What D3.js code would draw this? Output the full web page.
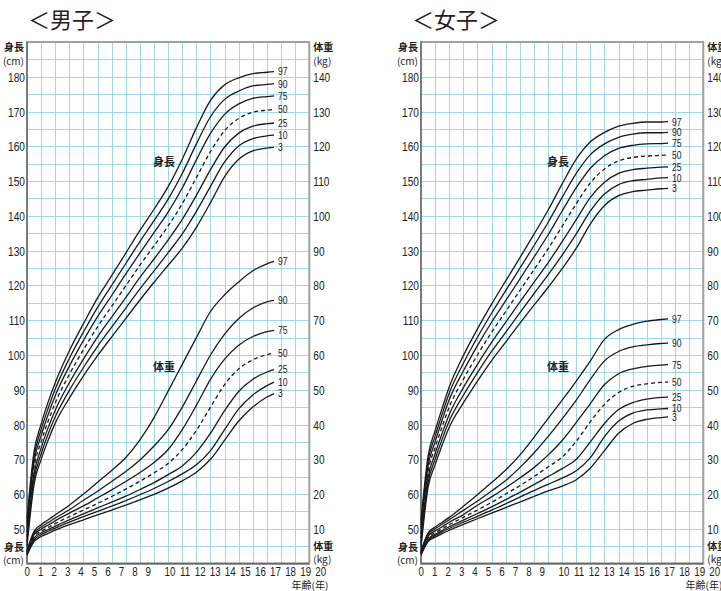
<!DOCTYPE html>
<html><head><meta charset="utf-8">
<script src="https://cdn.jsdelivr.net/npm/d3@7"></script>
<style>body{margin:0;background:#fff;} svg{display:block;}</style>
</head><body>
<svg id="c" width="721" height="591"></svg>
<script>
// ---- data ----
const ages = [0, 0.5, 1, 1.5, 2, 3, 4, 5, 6, 7, 8, 9, 10, 11, 12, 13, 14, 15, 16, 17, 17.5];
const percentiles = [3, 10, 25, 50, 75, 90, 97];

// height (cm), one row per percentile
const boysHeight = [
  [45.0, 62.8, 69.9, 75.5, 80.4, 87.6, 94.0, 99.8, 105.2, 110.5, 115.8, 120.9, 125.8, 130.7, 136.7, 143.8, 151.3, 156.3, 158.7, 159.5, 159.7],
  [46.3, 64.3, 71.5, 77.3, 82.2, 89.8, 96.4, 102.5, 108.0, 113.5, 119.0, 124.2, 129.4, 134.8, 141.3, 148.5, 155.5, 160.1, 162.2, 163.0, 163.2],
  [47.6, 65.8, 73.2, 79.1, 84.1, 92.0, 98.8, 105.2, 110.9, 116.5, 122.3, 127.6, 133.1, 139.0, 145.9, 153.3, 159.8, 163.8, 165.8, 166.5, 166.7],
  [49.0, 67.5, 75.0, 81.0, 86.2, 94.4, 101.5, 108.1, 114.0, 119.9, 125.8, 131.4, 137.1, 143.5, 151.0, 158.5, 164.5, 168.0, 169.8, 170.4, 170.6],
  [50.4, 69.2, 76.8, 82.9, 88.3, 96.8, 104.2, 111.0, 117.1, 123.3, 129.3, 135.2, 141.1, 148.0, 156.1, 163.7, 169.2, 172.2, 173.8, 174.3, 174.5],
  [51.7, 70.7, 78.5, 84.7, 90.2, 99.0, 106.6, 113.7, 120.0, 126.3, 132.6, 138.6, 144.8, 152.2, 160.7, 168.5, 173.5, 175.9, 177.4, 177.8, 178.0],
  [53.0, 72.2, 80.1, 86.5, 92.0, 101.2, 109.0, 116.4, 122.8, 129.3, 135.8, 141.9, 148.4, 156.3, 165.3, 173.2, 177.7, 179.7, 180.9, 181.3, 181.5]
];
// weight (kg)
const boysWeight = [
  [2.4, 6.3, 7.8, 8.7, 9.6, 11.2, 12.6, 14.0, 15.4, 16.8, 18.3, 19.9, 21.7, 23.8, 26.3, 30.0, 35.5, 41.0, 45.0, 47.9, 48.9],
  [2.6, 6.8, 8.3, 9.3, 10.2, 11.9, 13.5, 15.0, 16.5, 18.1, 19.8, 21.6, 23.6, 25.8, 28.4, 32.5, 38.5, 44.5, 48.5, 51.2, 52.2],
  [2.8, 7.3, 8.8, 9.8, 10.8, 12.6, 14.3, 16.0, 17.7, 19.4, 21.3, 23.3, 25.6, 28.1, 32.0, 37.5, 44.0, 49.5, 53.0, 55.1, 55.8],
  [3.0, 7.8, 9.3, 10.4, 11.5, 13.5, 15.4, 17.3, 19.3, 21.4, 23.7, 26.1, 28.8, 32.8, 38.3, 45.0, 51.5, 56.0, 58.6, 60.1, 60.6],
  [3.3, 8.3, 9.9, 11.1, 12.3, 14.5, 16.6, 18.9, 21.2, 23.6, 26.2, 29.1, 32.8, 38.5, 45.5, 53.0, 58.8, 62.8, 65.3, 66.7, 67.1],
  [3.5, 8.8, 10.5, 11.8, 13.1, 15.5, 18.2, 20.8, 23.6, 26.5, 29.8, 33.8, 38.5, 45.0, 52.5, 60.0, 66.0, 70.5, 73.5, 75.3, 75.7],
  [3.8, 9.3, 11.2, 12.6, 14.0, 16.8, 20.0, 23.4, 26.8, 30.5, 35.6, 42.0, 49.6, 57.3, 65.0, 72.5, 77.3, 81.0, 84.2, 86.2, 86.9]
];
const girlsHeight = [
  [44.7, 61.9, 68.4, 74.1, 79.2, 86.2, 92.5, 98.4, 103.7, 109.1, 114.3, 119.4, 124.8, 130.7, 137.7, 143.0, 145.8, 147.0, 147.4, 147.8, 147.9],
  [45.9, 63.3, 70.0, 75.8, 81.0, 88.4, 94.9, 101.0, 106.5, 112.1, 117.6, 123.0, 128.7, 134.8, 141.4, 146.3, 149.0, 150.1, 150.5, 150.9, 151.0],
  [47.2, 64.8, 71.6, 77.5, 82.9, 90.6, 97.3, 103.6, 109.4, 115.2, 120.9, 126.5, 132.6, 138.9, 145.3, 149.7, 152.2, 153.3, 153.7, 154.0, 154.1],
  [48.5, 66.4, 73.3, 79.4, 85.0, 93.0, 100.0, 106.5, 112.5, 118.5, 124.5, 130.5, 137.0, 143.5, 149.5, 153.5, 155.8, 156.8, 157.2, 157.4, 157.5],
  [49.8, 68.0, 75.0, 81.3, 87.1, 95.4, 102.7, 109.4, 115.6, 121.8, 128.1, 134.5, 141.4, 148.1, 153.7, 157.3, 159.4, 160.3, 160.7, 160.8, 160.9],
  [51.1, 69.5, 76.6, 83.0, 89.0, 97.6, 105.1, 112.0, 118.5, 124.9, 131.4, 138.1, 145.3, 152.2, 157.6, 160.7, 162.6, 163.5, 163.9, 163.9, 164.0],
  [52.3, 70.9, 78.2, 84.7, 90.8, 99.8, 107.5, 114.6, 121.3, 127.9, 134.7, 141.6, 149.2, 156.3, 161.3, 164.0, 165.8, 166.6, 167.0, 167.0, 167.1]
];
const girlsWeight = [
  [2.4, 6.3, 7.6, 8.6, 9.6, 11.3, 12.9, 14.5, 16.1, 17.7, 19.3, 20.9, 22.3, 24.1, 27.5, 32.5, 37.5, 40.3, 41.5, 42.0, 42.2],
  [2.6, 6.7, 8.0, 9.1, 10.1, 11.9, 13.6, 15.4, 17.2, 19.1, 21.0, 22.8, 24.6, 26.7, 30.5, 36.5, 41.0, 43.3, 44.2, 44.5, 44.6],
  [2.8, 7.0, 8.4, 9.5, 10.6, 12.5, 14.4, 16.3, 18.4, 20.5, 22.7, 25.0, 27.3, 30.0, 35.0, 40.3, 44.3, 46.3, 47.3, 47.8, 47.9],
  [3.0, 7.4, 8.9, 10.0, 11.2, 13.3, 15.4, 17.6, 20.0, 22.4, 25.0, 27.8, 30.6, 35.2, 40.8, 45.8, 49.2, 51.0, 51.7, 52.1, 52.2],
  [3.2, 7.9, 9.4, 10.6, 11.9, 14.1, 16.8, 19.2, 21.8, 24.6, 27.6, 31.2, 35.4, 40.6, 46.0, 51.5, 54.6, 56.0, 56.7, 57.1, 57.2],
  [3.5, 8.4, 10.0, 11.3, 12.6, 15.3, 18.0, 20.9, 23.9, 27.6, 31.8, 36.5, 41.6, 47.0, 53.0, 58.3, 61.0, 62.3, 62.9, 63.3, 63.4],
  [3.7, 8.8, 10.5, 11.9, 13.3, 16.5, 19.8, 23.3, 26.9, 31.2, 36.3, 41.7, 47.0, 52.5, 58.3, 64.5, 67.3, 68.8, 69.7, 70.2, 70.4]
];

const ageTicks = d3.range(0, 21);           // 0..20
const heightTicks = d3.range(50, 190, 10);  // 50..180
const weightTicks = d3.range(10, 150, 10);  // 10..140
const panelTitles = ["＜男子＞", "＜女子＞"];

// ---- drawing ----
const svg = d3.select("#c");
const NUM_FONT = "'Liberation Sans', Arial, sans-serif";
const JP_FONT = "'Noto Sans CJK JP', 'Noto Sans CJK SC', sans-serif";
const GRID = "#9ed8ee";

function drawPanel(dx, titleX, title, heightData, weightData) {
  const left = 27 + dx, right = 309.3 + dx, top = 42, bottom = 563.6;
  const x = d3.scaleLinear().domain([0, 20]).range([left, right]);
  const yH = d3.scaleLinear().domain([40, 190]).range([bottom, top]);
  const yW = d3.scaleLinear().domain([0, 150]).range([bottom, top]);
  // age-label positions as printed in the source (irregular spacing)
  const xLab = d3.scaleLinear().domain([0, 9, 10, 20]).range([27.3 + dx, 148.3 + dx, 170 + dx, 320.7 + dx]);

  const g = svg.append("g");

  // title
  g.append("text").attr("x", titleX).attr("y", 28)
    .attr("font-family", JP_FONT).attr("font-size", 22).attr("fill", "#222")
    .text(title);

  // grid
  const grid = g.append("g").attr("stroke", GRID).attr("stroke-width", 1)
    .attr("shape-rendering", "crispEdges");
  grid.selectAll("line.h").data(d3.range(45, 190, 5)).join("line")
    .attr("x1", left).attr("x2", right)
    .attr("y1", d => Math.round(yH(d)) + 0.5).attr("y2", d => Math.round(yH(d)) + 0.5);
  grid.selectAll("line.v").data(d3.range(1, 20)).join("line")
    .attr("y1", top).attr("y2", bottom)
    .attr("x1", d => Math.round(x(d)) + 0.5).attr("x2", d => Math.round(x(d)) + 0.5);

  // frame
  g.append("rect").attr("x", left).attr("y", top)
    .attr("width", right - left).attr("height", bottom - top)
    .attr("fill", "none").attr("stroke", "#a0a0a0").attr("stroke-width", 2);
  g.append("line").attr("x1", left).attr("x2", left).attr("y1", top).attr("y2", bottom)
    .attr("stroke", "#777").attr("stroke-width", 1.8);
  g.append("line").attr("x1", left).attr("x2", right).attr("y1", bottom).attr("y2", bottom)
    .attr("stroke", "#666").attr("stroke-width", 1.8);

  // numeric labels (condensed)
  function num(sel, tx, ty, anchor, size) {
    sel.attr("transform", d => `translate(${tx(d)},${ty(d)}) scale(0.78,1)`)
      .attr("text-anchor", anchor).attr("dominant-baseline", "central")
      .attr("font-family", NUM_FONT).attr("font-size", size).attr("fill", "#222")
      .text(d => d);
  }
  g.append("g").selectAll("text").data(heightTicks).join("text")
    .call(num, () => left - 2, d => yH(d), "end", 13);
  g.append("g").selectAll("text").data(weightTicks).join("text")
    .call(num, () => right + 4, d => yW(d), "start", 13);
  g.append("g").selectAll("text").data(ageTicks).join("text")
    .call(num, d => xLab(d), () => 572, "middle", 12.5);

  // unit labels
  function jp(txt, px, py, anchor, size, weight) {
    g.append("text").attr("x", px).attr("y", py).attr("text-anchor", anchor)
      .attr("font-family", JP_FONT).attr("font-size", size)
      .attr("font-weight", weight || 700).attr("fill", "#222").text(txt);
  }
  jp("身長", left - 3, 51, "end", 10);
  jp("(cm)", left - 3, 65, "end", 10, 400);
  jp("体重", right + 4, 51, "start", 10);
  jp("(kg)", right + 4, 65, "start", 10, 400);
  jp("身長", left - 3, 551, "end", 10);
  jp("(cm)", left - 3, 564, "end", 10, 400);
  jp("体重", right + 4, 550, "start", 10);
  jp("(kg)", right + 4, 563, "start", 10, 400);
  jp("年齢(年)", right + 19, 589, "end", 10, 400);

  // curves
  const lineH = d3.line().x((d, i) => x(ages[i])).y(d => yH(d)).curve(d3.curveMonotoneX);
  const lineW = d3.line().x((d, i) => x(ages[i])).y(d => yW(d)).curve(d3.curveMonotoneX);
  const curves = g.append("g").attr("fill", "none").attr("stroke", "#1a1a1a")
    .attr("stroke-width", 1.3);
  curves.selectAll("path.h").data(heightData).join("path")
    .attr("d", lineH)
    .attr("stroke-dasharray", (d, i) => percentiles[i] === 50 ? "4,3" : null);
  curves.selectAll("path.w").data(weightData).join("path")
    .attr("d", lineW)
    .attr("stroke-dasharray", (d, i) => percentiles[i] === 50 ? "4,3" : null);

  // percentile labels at curve ends
  const endAge = ages[ages.length - 1];
  const labs = g.append("g");
  labs.selectAll("text.h").data(heightData).join("text")
    .call(num, () => x(endAge) + 4, d => yH(d[d.length - 1]), "start", 11)
    .text((d, i) => percentiles[i]);
  labs.selectAll("text.w").data(weightData).join("text")
    .call(num, () => x(endAge) + 4, d => yW(d[d.length - 1]), "start", 11)
    .text((d, i) => percentiles[i]);

  // in-plot labels
  jp("身長", x(9.7), yH(155.5) + 4, "middle", 11);
  jp("体重", x(9.7), yW(56.5) + 4, "middle", 11);
}

drawPanel(0, 28, panelTitles[0], boysHeight, boysWeight);
drawPanel(394, 412, panelTitles[1], girlsHeight, girlsWeight);
</script>
</body></html>
